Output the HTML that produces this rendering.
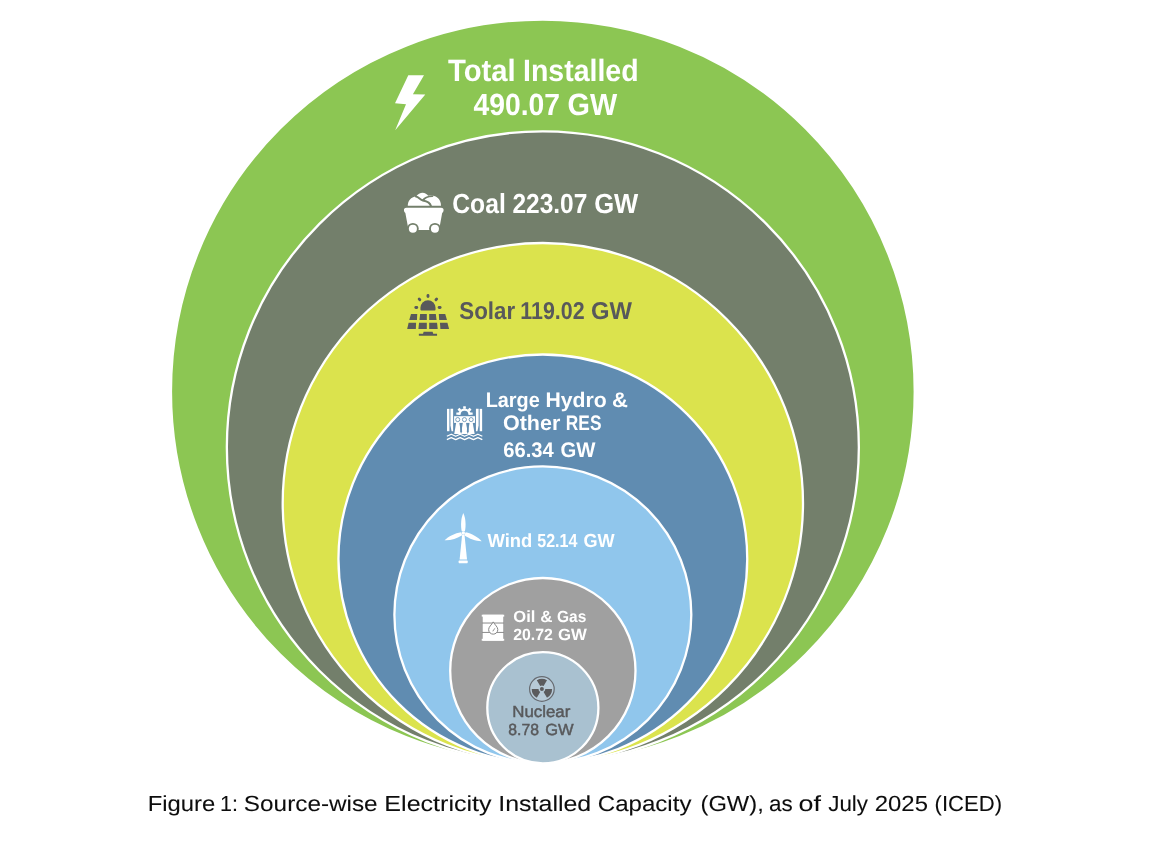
<!DOCTYPE html>
<html lang="en">
<head>
<meta charset="utf-8">
<title>Figure 1: Source-wise Electricity Installed Capacity (GW), as of July 2025 (ICED)</title>
<style>
  html, body { margin: 0; padding: 0; background: #ffffff; }
  body { width: 1150px; height: 861px; overflow: hidden; position: relative; }
  svg { position: absolute; left: 0; top: 0; display: block; }
  text { font-family: "Liberation Sans", sans-serif; white-space: pre; text-rendering: geometricPrecision; }
  .b { font-weight: bold; }
  .m { font-weight: normal; stroke: #58595b; stroke-width: 0.45px; }
  .w { fill: #ffffff; }
  .d { fill: #58595b; }
  .c { fill: #0d0d0d; stroke: #0d0d0d; stroke-width: 0.08px; }
</style>
</head>
<body>
<svg width="1150" height="861" viewBox="0 0 1150 861" role="img" aria-label="Source-wise electricity installed capacity, nested circles chart">
  <rect x="0" y="0" width="1150" height="861" fill="#ffffff"/>

  <!-- nested circles, all tangent at the bottom point -->
  <g id="circles" stroke="#ffffff" stroke-width="2.3">
    <circle cx="542.85" cy="391.40" r="371.90" fill="#8cc653"/>
    <circle cx="542.85" cy="447.30" r="316.00" fill="#737f6b"/>
    <circle cx="542.85" cy="503.15" r="260.15" fill="#dbe34d"/>
    <circle cx="542.85" cy="558.90" r="204.40" fill="#608cb1"/>
    <circle cx="542.85" cy="614.85" r="148.45" fill="#90c6ec"/>
    <circle cx="542.85" cy="670.65" r="92.65" fill="#a0a0a0"/>
    <circle cx="542.85" cy="707.75" r="55.55" fill="#a9c1d0"/>
  </g>

  <!-- icons -->
  <g id="icons">
    <!-- lightning bolt -->
    <polygon fill="#ffffff" points="408.3,75.3 424,75.3 412.9,94.2 425.3,94.4 395.2,130.2 406,104.2 395,103.3"/>

    <!-- coal cart -->
    <g transform="translate(395,185) scale(0.0639)">
      <path fill="#ffffff" d="M200,325 C200,250 250,185 330,180 C350,140 400,120 430,120 C470,120 505,140 520,170 C560,160 620,165 660,195 C700,225 720,270 720,325 Z"/>
      <path fill="none" stroke="#737f6b" stroke-width="31" stroke-linecap="round" d="M328,180 C375,185 390,232 440,243 C500,255 548,270 562,330"/>
      <path fill="none" stroke="#737f6b" stroke-width="31" stroke-linecap="round" d="M440,240 C465,195 510,178 585,174"/>
      <path fill="#ffffff" d="M180,355 L720,355 Q765,355 760,398 Q757,425 738,440 L690,705 L212,705 L162,440 Q143,425 140,398 Q135,355 180,355 Z"/>
      <circle cx="280" cy="685" r="92" fill="#737f6b"/>
      <circle cx="625" cy="685" r="92" fill="#737f6b"/>
      <circle cx="280" cy="685" r="63" fill="#ffffff"/>
      <circle cx="625" cy="685" r="63" fill="#ffffff"/>
    </g>

    <!-- solar panel -->
    <g transform="translate(400,288) scale(0.0639)" fill="#58595b">
      <path d="M320,338 L320,310 A118,118 0 0 1 556,310 L556,338 Q556,352 542,352 L334,352 Q320,352 320,338 Z"/>
      <rect x="416" y="95" width="44" height="60" rx="22"/>
      <rect x="283" y="148" width="44" height="60" rx="22" transform="rotate(-45 305 178)"/>
      <rect x="546" y="148" width="44" height="60" rx="22" transform="rotate(45 568 178)"/>
      <rect x="225" y="283" width="60" height="44" rx="22"/>
      <rect x="590" y="283" width="60" height="44" rx="22"/>
      <polygon points="172,405 270,405 265,500 145,500"/>
      <polygon points="315,405 420,405 420,500 305,500"/>
      <polygon points="457,405 560,405 572,500 457,500"/>
      <polygon points="607,405 708,405 735,500 613,500"/>
      <polygon points="135,545 252,545 248,640 112,640"/>
      <polygon points="298,545 420,545 420,640 288,640"/>
      <polygon points="457,545 580,545 590,640 457,640"/>
      <polygon points="625,545 742,545 768,640 632,640"/>
      <polygon points="370,685 510,685 520,715 580,715 580,748 295,748 295,715 360,715"/>
    </g>

    <!-- hydro dam -->
    <g transform="translate(436,398) scale(0.0639)" fill="#ffffff">
      <rect x="172" y="170" width="38" height="350"/>
      <polygon points="226,170 268,170 268,520 244,520 226,430"/>
      <polygon points="625,170 667,170 667,430 649,520 625,520"/>
      <rect x="684" y="170" width="38" height="350"/>
      <path fill="none" stroke="#ffffff" stroke-width="38" d="M366,262 A80,80 0 0 1 526,262"/>
      <g>
        <rect x="425" y="128" width="42" height="40" rx="6"/>
        <rect x="425" y="128" width="42" height="40" rx="6" transform="rotate(-45 446 262)"/>
        <rect x="425" y="128" width="42" height="40" rx="6" transform="rotate(45 446 262)"/>
        <rect x="318" y="228" width="60" height="36" rx="4"/>
        <rect x="514" y="228" width="60" height="36" rx="4"/>
      </g>
      <rect x="283" y="285" width="327" height="105"/>
      <polygon points="318,370 362,370 395,562 285,562"/>
      <polygon points="423,370 467,370 500,562 390,562"/>
      <polygon points="528,370 572,370 605,562 495,562"/>
      <g fill="#ffffff" stroke="#608cb1" stroke-width="13">
        <circle cx="340" cy="338" r="32"/>
        <circle cx="445" cy="338" r="32"/>
        <circle cx="550" cy="338" r="32"/>
      </g>
      <polygon fill="#608cb1" points="385,400 400,400 408,520 393,560 378,520"/>
      <polygon fill="#608cb1" points="490,400 505,400 513,520 498,560 483,520"/>
      <path fill="none" stroke="#ffffff" stroke-width="20" stroke-linejoin="round" d="M170,599 L239.4,567 L308.8,599 L378.1,567 L447.5,599 L516.9,567 L586.2,599 L655.6,567 L725.0,599"/>
      <path fill="none" stroke="#ffffff" stroke-width="20" stroke-linejoin="round" d="M170,651 L239.4,619 L308.8,651 L378.1,619 L447.5,651 L516.9,619 L586.2,651 L655.6,619 L725.0,651"/>
    </g>

    <!-- wind turbine -->
    <g transform="translate(433,508) scale(0.0697)" fill="#ffffff">
      <path id="blade" d="M435,72 C468,140 476,250 458,334 L412,334 C394,250 402,140 435,72 Z"/>
      <path d="M435,72 C468,140 476,250 458,334 L412,334 C394,250 402,140 435,72 Z" transform="rotate(114 435 360)"/>
      <path d="M435,72 C468,140 476,250 458,334 L412,334 C394,250 402,140 435,72 Z" transform="rotate(-111 435 360)"/>
      <circle cx="435" cy="360" r="25"/>
      <polygon points="418,385 452,385 488,738 382,738"/>
      <rect x="368" y="755" width="130" height="36" rx="8"/>
    </g>

    <!-- oil barrel -->
    <g transform="translate(473,605.5) scale(0.04993)">
      <rect x="195" y="185" width="410" height="520" fill="#ffffff"/>
      <rect x="175" y="185" width="450" height="38" fill="#ffffff"/>
      <rect x="175" y="667" width="450" height="38" fill="#ffffff"/>
      <rect x="178" y="341" width="444" height="20" fill="#8a8a8a"/>
      <rect x="178" y="529" width="444" height="20" fill="#8a8a8a"/>
      <path fill="#ffffff" stroke="#858585" stroke-width="20" d="M405,328 C440,392 497,428 497,482 A92,92 0 0 1 313,482 C313,428 370,392 405,328 Z"/>
      <path fill="none" stroke="#858585" stroke-width="18" stroke-linecap="round" d="M400,510 Q405,480 438,462"/>
    </g>

    <!-- nuclear -->
    <g>
      <circle cx="541.9" cy="689.0" r="12.3" fill="#b7cad7" stroke="#666a70" stroke-width="1.2"/>
      <path fill="#5b5b5d" d="M540.20,686.06 L536.80,680.17 A10.2,10.2 0 0 1 547.00,680.17 L543.60,686.06 A3.4,3.4 0 0 0 540.20,686.06 Z M545.30,689.00 L552.10,689.00 A10.2,10.2 0 0 1 547.00,697.83 L543.60,691.94 A3.4,3.4 0 0 0 545.30,689.00 Z M540.20,691.94 L536.80,697.83 A10.2,10.2 0 0 1 531.70,689.00 L538.50,689.00 A3.4,3.4 0 0 0 540.20,691.94 Z"/>
      <circle cx="541.9" cy="689.0" r="2" fill="#5b5b5d"/>
    </g>
  </g>

  <!-- labels -->
  <g id="labels">
    <text class="b w" y="80.90" font-size="30.8"><tspan x="447.94" textLength="67.70" lengthAdjust="spacingAndGlyphs">Total</tspan> <tspan x="523.05" textLength="115.56" lengthAdjust="spacingAndGlyphs">Installed</tspan></text>
    <text class="b w" y="114.90" font-size="30.7"><tspan x="473.54" textLength="86.53" lengthAdjust="spacingAndGlyphs">490.07</tspan> <tspan x="567.53" textLength="49.66" lengthAdjust="spacingAndGlyphs">GW</tspan></text>
    <text class="b w" y="212.90" font-size="27.6"><tspan x="452.29" textLength="53.53" lengthAdjust="spacingAndGlyphs">Coal</tspan> <tspan x="512.41" textLength="74.91" lengthAdjust="spacingAndGlyphs">223.07</tspan> <tspan x="594.15" textLength="44.16" lengthAdjust="spacingAndGlyphs">GW</tspan></text>
    <text class="b d" y="318.60" font-size="24.4"><tspan x="459.31" textLength="55.84" lengthAdjust="spacingAndGlyphs">Solar</tspan> <tspan x="520.28" textLength="64.31" lengthAdjust="spacingAndGlyphs">119.02</tspan> <tspan x="591.02" textLength="40.98" lengthAdjust="spacingAndGlyphs">GW</tspan></text>
    <text class="b w" y="406.65" font-size="21.0"><tspan x="485.70" textLength="54.05" lengthAdjust="spacingAndGlyphs">Large</tspan> <tspan x="545.41" textLength="61.31" lengthAdjust="spacingAndGlyphs">Hydro</tspan> <tspan x="611.98" textLength="15.92" lengthAdjust="spacingAndGlyphs">&amp;</tspan></text>
    <text class="b w" y="429.60" font-size="21.0"><tspan x="503.01" textLength="57.27" lengthAdjust="spacingAndGlyphs">Other</tspan> <tspan x="565.87" textLength="35.60" lengthAdjust="spacingAndGlyphs">RES</tspan></text>
    <text class="b w" y="456.70" font-size="21.0"><tspan x="503.18" textLength="50.58" lengthAdjust="spacingAndGlyphs">66.34</tspan> <tspan x="560.55" textLength="34.98" lengthAdjust="spacingAndGlyphs">GW</tspan></text>
    <text class="b w" y="547.00" font-size="18.9"><tspan x="487.50" textLength="44.82" lengthAdjust="spacingAndGlyphs">Wind</tspan> <tspan x="537.27" textLength="40.16" lengthAdjust="spacingAndGlyphs">52.14</tspan> <tspan x="583.38" textLength="31.15" lengthAdjust="spacingAndGlyphs">GW</tspan></text>
    <text class="b w" y="621.75" font-size="16.2"><tspan x="513.36" textLength="22.06" lengthAdjust="spacingAndGlyphs">Oil</tspan> <tspan x="540.21" textLength="12.26" lengthAdjust="spacingAndGlyphs">&amp;</tspan> <tspan x="557.00" textLength="29.30" lengthAdjust="spacingAndGlyphs">Gas</tspan></text>
    <text class="b w" y="639.90" font-size="16.2"><tspan x="513.19" textLength="39.74" lengthAdjust="spacingAndGlyphs">20.72</tspan> <tspan x="557.95" textLength="28.85" lengthAdjust="spacingAndGlyphs">GW</tspan></text>
    <text class="m d" y="717.00" font-size="16.1"><tspan x="512.26" textLength="58.10" lengthAdjust="spacingAndGlyphs">Nuclear</tspan></text>
    <text class="m d" y="734.60" font-size="16.1"><tspan x="508.26" textLength="30.73" lengthAdjust="spacingAndGlyphs">8.78</tspan>  <tspan x="545.30" textLength="28.39" lengthAdjust="spacingAndGlyphs">GW</tspan></text>
    <text class="c" y="811.00" font-size="21.8"><tspan x="147.69" textLength="67.45" lengthAdjust="spacingAndGlyphs">Figure</tspan> <tspan x="220.00" textLength="17.91" lengthAdjust="spacingAndGlyphs">1:</tspan> <tspan x="243.88" textLength="133.76" lengthAdjust="spacingAndGlyphs">Source-wise</tspan> <tspan x="384.39" textLength="107.17" lengthAdjust="spacingAndGlyphs">Electricity</tspan> <tspan x="498.31" textLength="92.93" lengthAdjust="spacingAndGlyphs">Installed</tspan> <tspan x="597.76" textLength="93.71" lengthAdjust="spacingAndGlyphs">Capacity</tspan> <tspan x="700.50" textLength="63.26" lengthAdjust="spacingAndGlyphs">(GW),</tspan> <tspan x="769.10" textLength="23.70" lengthAdjust="spacingAndGlyphs">as</tspan> <tspan x="798.52" textLength="22.40" lengthAdjust="spacingAndGlyphs">of</tspan> <tspan x="828.21" textLength="39.80" lengthAdjust="spacingAndGlyphs">July</tspan> <tspan x="874.77" textLength="53.19" lengthAdjust="spacingAndGlyphs">2025</tspan> <tspan x="934.61" textLength="67.45" lengthAdjust="spacingAndGlyphs">(ICED)</tspan></text>
  </g>
</svg>
</body>
</html>
